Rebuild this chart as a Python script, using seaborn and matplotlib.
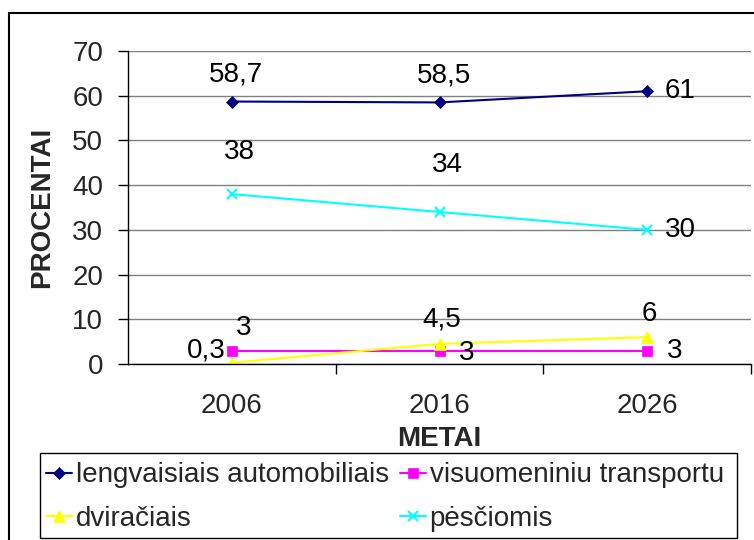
"""Transporto pasirinkimo prognozė: procentai pagal metus"""

import matplotlib.pyplot as plt
import matplotlib.ticker as ticker
from matplotlib.patches import Rectangle
import pandas as pd
import seaborn as sns

# data
years = ['2006', '2016', '2026']
lengvaisiais = [58.7, 58.5, 61]
visuomeniniu = [3, 3, 3]
dviraciais = [0.3, 4.5, 6]
pesciomis = [38, 34, 30]

series_names = ['lengvaisiais automobiliais', 'visuomeniniu transportu',
                'dviračiais', 'pėsčiomis']
series_values = [lengvaisiais, visuomeniniu, dviraciais, pesciomis]
colors = ['#000080', '#FF00FF', '#FFFF00', '#00FFFF']
markers = ['D', 's', '^', 'x']
msizes = [6, 7, 8, 7]

# label offsets in pixels (dx, dy), like Excel's manual placement
label_offsets = [
    [(4, 27), (4, 27), (33, 0)],
    [(12, 23), (27, -2), (27, 0)],
    [(-26, 12), (2, 24), (2, 23)],
    [(8, 42), (8, 47), (33, 0)],
]

sns.set_style("white")
plt.rcParams['font.family'] = ['Liberation Sans', 'DejaVu Sans']
fs = 20

fig = plt.figure(figsize=(7.54, 5.4), dpi=100)
ax = fig.add_axes([128 / 754, 176 / 540, 623 / 754, 313 / 540])

rows = []
for name, vals in zip(series_names, series_values):
    for y, v in zip(years, vals):
        rows.append({'METAI': y, 'PROCENTAI': v, 'serija': name})
df = pd.DataFrame(rows)

for name, col, mk, ms in zip(series_names, colors, markers, msizes):
    sns.lineplot(data=df[df.serija == name], x='METAI', y='PROCENTAI',
                 color=col, marker=mk, markersize=ms, markeredgecolor=col,
                 markeredgewidth=1.5 if mk == 'x' else 0.5,
                 linewidth=1.5, label=name, ax=ax, legend=False)

# data labels
for vals, offs in zip(series_values, label_offsets):
    for i, (v, off) in enumerate(zip(vals, offs)):
        ax.annotate(f"{v:g}".replace('.', ','), xy=(i, v), xytext=off,
                    textcoords='offset pixels', ha='center', va='center',
                    fontsize=fs, color='black', annotation_clip=False)

ax.set_xlim(-0.5, 2.5)
ax.set_ylim(0, 70)
ax.yaxis.set_major_locator(ticker.MultipleLocator(10))
ax.grid(axis='y', color='#808080', linewidth=1)
ax.set_axisbelow(True)

ax.set_xticks([0, 1, 2])
ax.set_xticklabels(years)
ax.xaxis.set_minor_locator(ticker.FixedLocator([0.5, 1.5, 2.5]))
ax.tick_params(axis='x', which='major', length=0, pad=21, labelsize=fs)
ax.tick_params(axis='x', which='minor', length=7, width=1, color='black',
               bottom=True, direction='out')
ax.tick_params(axis='y', which='major', length=7, width=1, color='black',
               left=True, direction='out', pad=11, labelsize=fs)

for s in ['top', 'right']:
    ax.spines[s].set_visible(False)
for s in ['left', 'bottom']:
    ax.spines[s].set_color('black')
    ax.spines[s].set_linewidth(1)

ax.set_xlabel("METAI", fontsize=fs, fontweight='bold', labelpad=5)
ax.set_ylabel("PROCENTAI", fontsize=fs, fontweight='bold', labelpad=12)

# legend: row order as in the reference (matplotlib fills column by column)
handles, labels = ax.get_legend_handles_labels()
order = [0, 2, 1, 3]
leg = fig.legend([handles[i] for i in order], [labels[i] for i in order],
                 ncol=2, loc='center left',
                 bbox_to_anchor=(46 / 754, (540 - 497) / 540),
                 fontsize=20, handlelength=0.95, handletextpad=0.12,
                 columnspacing=0.4, borderaxespad=0, borderpad=0,
                 frameon=False, labelspacing=0.62)

# legend box and outer chart border
fig.patches.append(Rectangle((40 / 754, 2 / 540), 697 / 754, 85 / 540,
                             transform=fig.transFigure, fill=False,
                             edgecolor='black', linewidth=1))
fig.patches.append(Rectangle((9 / 754, -0.1), 1.2, 0.976 + 0.1,
                             transform=fig.transFigure, fill=False,
                             edgecolor='black', linewidth=1.5))

plt.savefig('out.png', dpi=100)
plt.close(fig)
